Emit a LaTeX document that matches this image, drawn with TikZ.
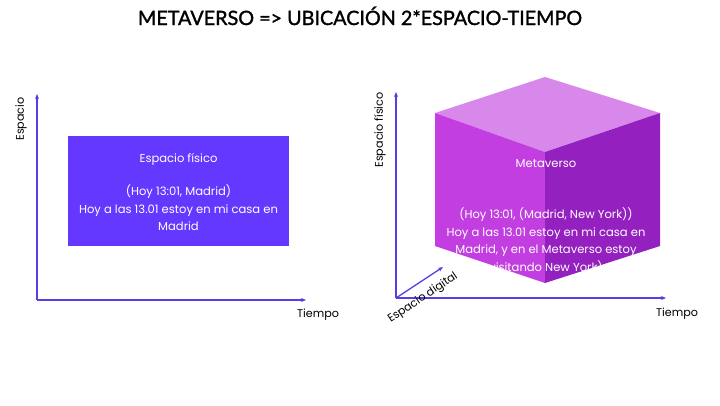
\documentclass[tikz,border=0pt]{standalone}
\usepackage{fontspec}
\setmainfont{Poppins}
\newfontfamily\titlefont[FakeBold=1.4]{Lato}
\usetikzlibrary{arrows.meta}
\definecolor{axiscol}{RGB}{92,58,228}
\definecolor{rectcol}{RGB}{100,56,255}
\definecolor{topcol}{RGB}{216,135,235}
\definecolor{leftcol}{RGB}{194,62,224}
\definecolor{rightcol}{RGB}{148,32,192}
\tikzset{
  axis/.style={draw=axiscol, line width=1.3pt, -{Stealth[length=5pt,width=4pt]}},
  axlabel/.style={font=\fontsize{11.2}{13}\selectfont, text=black, inner sep=0pt},
  boxtext/.style={font=\fontsize{11.6}{17.6}\selectfont, text=white, align=center, inner sep=0pt},
}
\begin{document}
\begin{tikzpicture}[x=1bp,y=-1bp]
\useasboundingbox[fill=white] (0,0) rectangle (720,405);
% title
\node[font=\titlefont\fontsize{21}{24}\selectfont, inner sep=0pt, anchor=base] (title) at (360,25) {\resizebox{444bp}{!}{METAVERSO => UBICACIÓN 2*ESPACIO-TIEMPO}};

% left diagram
\coordinate (lo) at (37,300);
\coordinate (ly) at (37,94);
\coordinate (lx) at (306,300);
\node[fill=rectcol, minimum width=221bp, minimum height=110bp, inner sep=0pt] (rect) at (178.5,191) {};
\draw[axis] (lo) -- (ly);
\draw[axis] (lo) -- (lx);
\node[axlabel, rotate=90] (lesp) at (21,119) {Espacio};
\node[axlabel] (ltiem) at (318,315) {Tiempo};
\node[boxtext] (rtext) at (178.5,159) {Espacio físico};
\node[boxtext] (rtext2) at (178.5,208) {(Hoy 13:01, Madrid)\\Hoy a las 13.01 estoy en mi casa en\\Madrid};

% right diagram: cube
\coordinate (tb) at (545,77);
\coordinate (tl) at (435,113);
\coordinate (tr) at (660,113);
\coordinate (tf) at (545,152);
\coordinate (bl) at (435,246);
\coordinate (br) at (660,246);
\coordinate (bf) at (545,283);
\fill[topcol] (tb) -- (tr) -- (tf) -- (tl) -- cycle;
\fill[leftcol] (tl) -- (tf) -- (bf) -- (bl) -- cycle;
\fill[rightcol] (tf) -- (tr) -- (br) -- (bf) -- cycle;

\coordinate (ro) at (396,298);
\coordinate (ry) at (396,92);
\coordinate (rx) at (666,298);
\coordinate (rd) at (443,267);
\draw[axis] (ro) -- (ry);
\draw[axis] (ro) -- (rx);
\draw[axis] (ro) -- (rd);
\node[axlabel, rotate=90] (resp) at (380,130) {Espacio físico};
\node[axlabel] (rtiem) at (677,314) {Tiempo};
\node[axlabel, rotate=34] (rdig) at (423,298) {Espacio digital};
\node[boxtext] (ctext) at (546,164) {Metaverso};
\node[boxtext] (ctext2) at (546,240.5) {(Hoy 13:01, (Madrid, New York))\\Hoy a las 13.01 estoy en mi casa en\\Madrid, y en el Metaverso estoy\\visitando New York)};
\end{tikzpicture}
\end{document}
